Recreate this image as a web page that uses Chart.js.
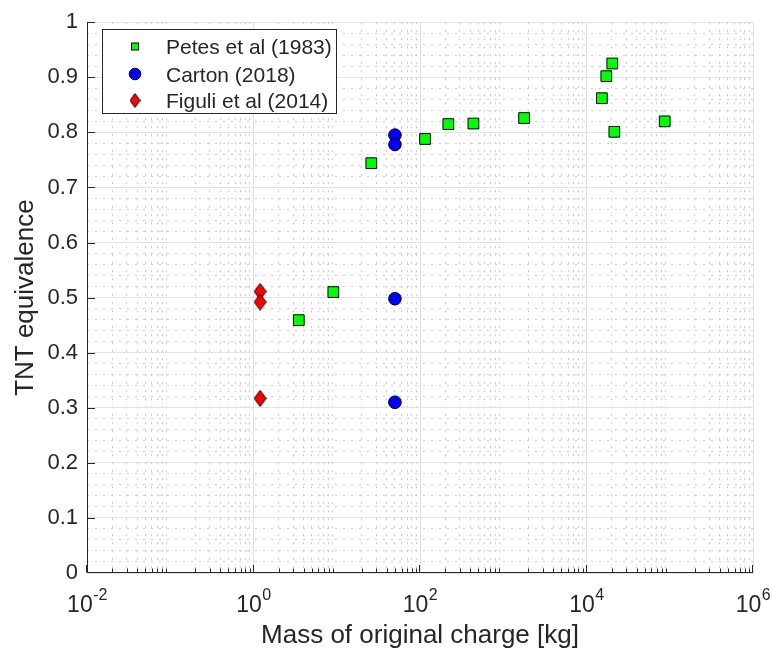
<!DOCTYPE html>
<html>
<head>
<meta charset="utf-8">
<script src="https://cdn.jsdelivr.net/npm/chart.js@4/dist/chart.umd.min.js"></script>
<style>
html, body { margin: 0; padding: 0; background: #fff; }
canvas { display: block; }
</style>
</head>
<body>
<canvas id="graph-tnt" width="772" height="652"></canvas>
<script>
// Petes et al (1983)
const petesMasse = [3.5, 9.1, 26, 115, 219, 438, 1780, 15300, 17300, 20400, 21600, 87000];
const petesTNT = [0.459, 0.510, 0.744, 0.788, 0.815, 0.816, 0.826, 0.862, 0.902, 0.925, 0.801, 0.820];

// Carton (2018)
const cartonMasse = [50, 50, 50, 50];
const cartonTNT = [0.795, 0.778, 0.498, 0.310];

// Figuli et al (2014)
const figuliMasse = [1.2, 1.2, 1.2];
const figuliTNT = [0.511, 0.492, 0.317];

const noms = ["Petes et al (1983)", "Carton (2018)", "Figuli et al (2014)"];

// graduations
const xTicks = [1e-2, 1e0, 1e2, 1e4, 1e6];
const xTickExp = ["-2", "0", "2", "4", "6"];
const xDecades = [1e-2, 1e-1, 1e0, 1e1, 1e2, 1e3, 1e4, 1e5];
const yTicks = [0, 0.1, 0.2, 0.3, 0.4, 0.5, 0.6, 0.7, 0.8, 0.9, 1];
const yTickLabels = ["0", "0.1", "0.2", "0.3", "0.4", "0.5", "0.6", "0.7", "0.8", "0.9", "1"];

const ENCRE = "#262626";
const POLICE = "'Liberation Sans', Arial, Helvetica, sans-serif";

// petites graduations (2..9 par décade, 0.02 en y)
const xMinor = [];
xDecades.forEach(d => { for (let m = 2; m <= 9; m++) xMinor.push(d * m); });
const yMinor = [];
for (let i = 1; i < 50; i++) if (i % 5 !== 0) yMinor.push(i / 50);

// losange un peu plus haut que large
function faireLosange(l, h) {
    const c = document.createElement("canvas");
    c.width = l; c.height = h;
    const g = c.getContext("2d");
    g.beginPath();
    g.moveTo(l / 2, 0.5);
    g.lineTo(l - 0.5, h / 2);
    g.lineTo(l / 2, h - 0.5);
    g.lineTo(0.5, h / 2);
    g.closePath();
    g.fillStyle = "#ff0000";
    g.fill();
    g.strokeStyle = "#000";
    g.lineWidth = 1;
    g.stroke();
    return c;
}
const losange = faireLosange(13, 17);
const petitLosange = faireLosange(11, 15);

const points = (xs, ys) => xs.map((x, i) => ({ x: x, y: ys[i] }));

// axes, graduations, titres et légende dessinés à la main
const habillage = {
    id: "habillage",
    beforeDatasetsDraw(chart) {
        const { ctx, chartArea: a, scales } = chart;
        const sx = scales.x, sy = scales.y;
        const gauche = Math.round(a.left) + 0.5;
        const bas = Math.round(a.bottom) - 0.5;
        ctx.save();
        ctx.strokeStyle = ENCRE;
        ctx.lineWidth = 1;
        ctx.beginPath();
        ctx.moveTo(gauche, Math.round(a.top));
        ctx.lineTo(gauche, bas);
        ctx.lineTo(Math.round(a.right), bas);
        // graduations vers l'intérieur
        yTicks.forEach(v => {
            const py = Math.round(sy.getPixelForValue(v)) + (v === 0 ? -0.5 : 0.5);
            ctx.moveTo(gauche, py);
            ctx.lineTo(gauche + 7.5, py);
        });
        xTicks.forEach(v => {
            const px = Math.round(sx.getPixelForValue(v)) - 0.5;
            ctx.moveTo(px, bas);
            ctx.lineTo(px, bas - 7.5);
        });
        xMinor.forEach(v => {
            const px = Math.round(sx.getPixelForValue(v)) + 0.5;
            ctx.moveTo(px, bas);
            ctx.lineTo(px, bas - 4);
        });
        ctx.stroke();

        // étiquettes 10^n
        ctx.fillStyle = ENCRE;
        ctx.textBaseline = "alphabetic";
        ctx.textAlign = "left";
        xTicks.forEach((v, i) => {
            const px = sx.getPixelForValue(v);
            ctx.font = "23px " + POLICE;
            const w1 = ctx.measureText("10").width;
            ctx.font = "16px " + POLICE;
            const w2 = ctx.measureText(xTickExp[i]).width;
            const x0 = px - (w1 + w2) / 2;
            ctx.font = "23px " + POLICE;
            ctx.fillText("10", x0, 612);
            ctx.font = "16px " + POLICE;
            ctx.fillText(xTickExp[i], x0 + w1 + 0.5, 600);
        });

        // titres des axes
        ctx.font = "26px " + POLICE;
        ctx.textAlign = "center";
        ctx.fillText("Mass of original charge [kg]", (a.left + a.right) / 2, 643);
        ctx.save();
        ctx.translate(33, (a.top + a.bottom) / 2);
        ctx.rotate(-Math.PI / 2);
        ctx.fillText("TNT equivalence", 0, 0);
        ctx.restore();
        ctx.restore();
    },
    afterDraw(chart) {
        const { ctx } = chart;
        ctx.save();
        // cadre de la légende
        ctx.fillStyle = "#fff";
        ctx.fillRect(102.5, 29.5, 234, 84);
        ctx.strokeStyle = ENCRE;
        ctx.lineWidth = 1;
        ctx.strokeRect(102.5, 29.5, 234, 84);

        const xm = 135;
        const lignes = [46.5, 74, 100.5];
        ctx.lineWidth = 1;
        ctx.strokeStyle = "#000";
        // carré
        ctx.fillStyle = "#00ff00";
        ctx.fillRect(131.5, lignes[0] - 3.5, 7, 7);
        ctx.strokeRect(131.5, lignes[0] - 3.5, 7, 7);
        // rond
        ctx.beginPath();
        ctx.arc(xm, lignes[1], 5.8, 0, Math.PI * 2);
        ctx.fillStyle = "#0000ff";
        ctx.fill();
        ctx.stroke();
        // losange
        ctx.drawImage(petitLosange, xm - 5.5, lignes[2] - 7.5);

        ctx.fillStyle = ENCRE;
        ctx.font = "21px " + POLICE;
        ctx.textAlign = "left";
        ctx.textBaseline = "alphabetic";
        noms.forEach((n, i) => ctx.fillText(n, 166, lignes[i] + 7.5));
        ctx.restore();
    }
};

const ctx = document.getElementById("graph-tnt").getContext("2d");

new Chart(ctx, {
    type: "scatter",
    data: {
        datasets: [
            {
                label: noms[0],
                data: points(petesMasse, petesTNT),
                pointStyle: "rect",
                pointRadius: 7.6,
                backgroundColor: "#00ff00",
                borderColor: "#000",
                borderWidth: 1
            },
            {
                label: noms[1],
                data: points(cartonMasse, cartonTNT),
                pointStyle: "circle",
                pointRadius: 6.3,
                backgroundColor: "#0000ff",
                borderColor: "#000",
                borderWidth: 1
            },
            {
                label: noms[2],
                data: points(figuliMasse, figuliTNT),
                pointStyle: losange,
                pointRadius: 8,
                backgroundColor: "#ff0000",
                borderColor: "#000",
                borderWidth: 1
            }
        ]
    },
    options: {
        responsive: false,
        animation: false,
        events: [],
        layout: { padding: { left: 0, top: 16, right: 19, bottom: 0 } },
        plugins: {
            legend: { display: false },
            tooltip: { enabled: false }
        },
        scales: {
            x: {
                type: "logarithmic",
                position: "bottom",
                min: 1e-2,
                max: 1e6,
                afterBuildTicks: s => { s.ticks = xTicks.map(v => ({ value: v })); },
                afterFit: s => { s.height = 79; },
                ticks: { display: false },
                grid: { color: "#e2e2e2", lineWidth: 1, drawTicks: false },
                border: { display: false }
            },
            xMineur: {
                type: "logarithmic",
                position: "bottom",
                min: 1e-2,
                max: 1e6,
                afterBuildTicks: s => { s.ticks = xMinor.map(v => ({ value: v })); },
                afterFit: s => { s.height = 0; },
                ticks: { display: false },
                grid: { color: "#cbcbcb", lineWidth: 1, drawTicks: false },
                border: { display: false, dash: [2, 6] }
            },
            y: {
                type: "linear",
                position: "left",
                min: 0,
                max: 1,
                afterBuildTicks: s => { s.ticks = yTicks.map(v => ({ value: v })); },
                afterFit: s => { s.width = 87; },
                ticks: {
                    callback: (v, i) => yTickLabels[i],
                    color: ENCRE,
                    padding: 9,
                    font: { family: POLICE, size: 22 }
                },
                grid: { color: "#e2e2e2", lineWidth: 1, drawTicks: false },
                border: { display: false }
            },
            yMineur: {
                type: "linear",
                position: "left",
                min: 0,
                max: 1,
                afterBuildTicks: s => { s.ticks = yMinor.map(v => ({ value: v })); },
                afterFit: s => { s.width = 0; },
                ticks: { display: false },
                grid: { color: "#cbcbcb", lineWidth: 1, drawTicks: false },
                border: { display: false, dash: [2, 6] }
            }
        }
    },
    plugins: [habillage]
});
</script>
</body>
</html>
